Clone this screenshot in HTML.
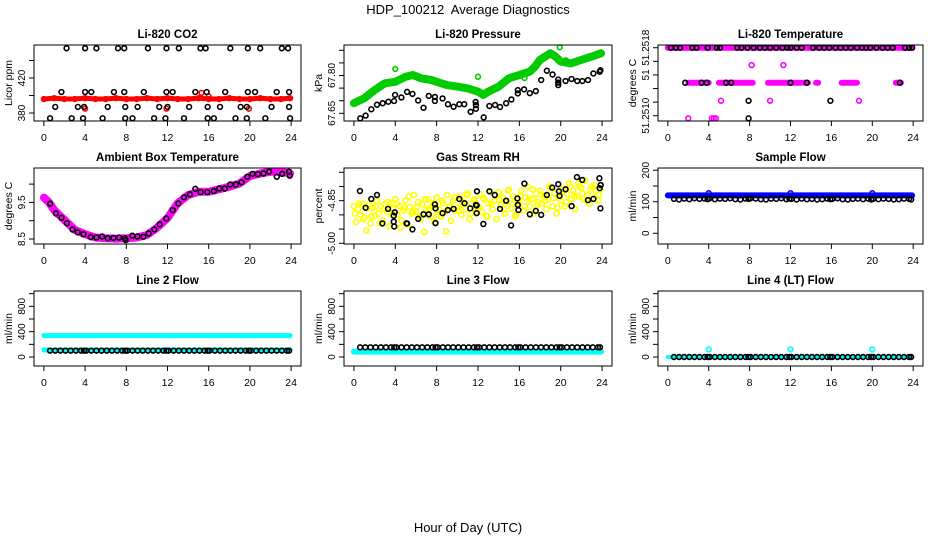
<!DOCTYPE html>
<html><head><meta charset="utf-8"><style>
html,body{margin:0;padding:0;background:#fff;}
svg{display:block;font-family:"Liberation Sans",sans-serif;}
</style></head><body>
<svg id="chart" width="936" height="540" viewBox="0 0 936 540" xmlns="http://www.w3.org/2000/svg">
<rect x="0" y="0" width="936" height="540" fill="#fff"/>
<text x="468" y="14" text-anchor="middle" font-size="13">HDP_100212&#160; Average Diagnostics</text>
<text x="468" y="532" text-anchor="middle" font-size="13">Hour of Day (UTC)</text>
</svg>
<script>
// ---------- data ----------
const xTicks = [0,4,8,12,16,20,24];
const co2RedHours = [0,1,2,3,4,5,6,7,8,9,10,11,12,13,14,15,16,17,18,19,20,21,22,23,23.9];
const co2RedVals = [396,397,396,396,397,396,396,397,396,396,397,396,397,396,396,397,396,396,397,396,396,397,396,396,397];
const co2RedOutHours = [4.0,11.9,19.9,15.3,16.0];
const co2RedOutVals = [385,385,385,403,399];
const co2BlackHours = [2.2,4.0,5.1,7.2,7.8,10.1,11.9,13.1,15.2,15.7,18.1,19.8,21.0,23.1,23.7,
 1.7,4.0,4.6,6.8,7.8,9.7,11.9,12.5,14.7,15.8,17.6,19.8,20.5,22.6,23.8,
 1.1,3.3,3.9,6.2,7.9,9.1,11.2,12.0,14.1,15.9,17.1,19.1,19.7,22.1,23.8,
 0.6,2.7,3.8,5.7,7.9,8.6,10.7,11.8,13.6,15.9,16.5,18.6,19.7,21.5,23.9];
const co2BlackVals = [454,454,454,454,454,454,454,454,454,454,454,454,454,454,454,
 404,404,404,404,404,404,404,404,404,404,404,404,404,404,404,
 387,387,387,387,387,387,387,387,387,387,387,387,387,387,387,
 374,374,374,374,374,374,374,374,374,374,374,374,374,374,374];

const presGreenHours = [0,1,2,3,4,5,5.7,6.5,7.5,8,9,10,11,12,12.5,13,14,15,16,17,17.5,18,19,19.5,20,21,22,23,23.9];
const presGreenVals = [67.690,67.710,67.742,67.769,67.775,67.795,67.802,67.789,67.782,67.775,67.762,67.756,67.749,67.736,67.723,67.736,67.756,67.789,67.802,67.815,67.835,67.862,67.888,67.875,67.855,67.848,67.862,67.875,67.888];
const presGreenOutHours = [4.0,12.0,19.9,20.5,16.5];
const presGreenOutVals = [67.826,67.795,67.912,67.86,67.79];
const presBlackHours = [0.61,1.13,1.68,2.23,2.78,3.33,3.88,3.98,4.59,5.14,5.66,6.21,6.73,7.24,7.83,7.83,8.57,9.09,9.64,10.19,10.67,11.29,11.77,11.8,11.8,12.55,13.1,13.65,14.13,14.72,15.23,15.85,15.85,16.46,17.01,17.59,18.11,18.66,19.21,19.76,19.76,19.76,20.47,21.05,21.6,22.09,22.64,23.16,23.77,23.84];
const presBlackVals = [67.630,67.641,67.666,67.684,67.690,67.696,67.699,67.723,67.713,67.735,67.727,67.701,67.672,67.719,67.715,67.699,67.709,67.686,67.676,67.686,67.686,67.656,67.695,67.683,67.668,67.634,67.679,67.683,67.675,67.690,67.705,67.742,67.729,67.745,67.730,67.738,67.782,67.819,67.804,67.784,67.772,67.762,67.778,67.786,67.778,67.778,67.782,67.808,67.815,67.821];

const tempMagRunStart = [0,2.0,5.0,9.8,13.3,14.5,17.0,22.3];
const tempMagRunEnd = [23.9,4.0,8.3,13.0,13.7,14.7,18.5,22.8];
const tempMagRunVal = [51.2518,51.251388,51.251388,51.251388,51.251388,51.251388,51.251388,51.251388];
const tempMagPtHours = [8.2,11.3,5.2,10.0,18.7,2.0,4.3,4.5,4.7];
const tempMagPtVals = [51.251596,51.251596,51.251176,51.251176,51.251176,51.250969,51.250969,51.250969,51.250969];
const tempBlackHours = [0.3,0.8,1.2,2.4,2.8,3.9,4.8,5.1,6.8,7.2,7.8,8.4,9.0,9.5,10.0,10.6,11.2,11.7,12.0,12.6,13.1,14.2,14.8,15.3,15.8,16.4,16.9,17.4,17.9,18.5,19.0,19.4,19.8,20.4,21.0,21.5,22.0,23.2,23.6,23.9,
 1.7,3.3,3.8,5.7,6.2,12.0,13.6,22.7,7.9,15.9,7.9];
const tempBlackVals = [51.2518,51.2518,51.2518,51.2518,51.2518,51.2518,51.2518,51.2518,51.2518,51.2518,51.2518,51.2518,51.2518,51.2518,51.2518,51.2518,51.2518,51.2518,51.2518,51.2518,51.2518,51.2518,51.2518,51.2518,51.2518,51.2518,51.2518,51.2518,51.2518,51.2518,51.2518,51.2518,51.2518,51.2518,51.2518,51.2518,51.2518,51.2518,51.2518,51.2518,
 51.251388,51.251388,51.251388,51.251388,51.251388,51.251388,51.251388,51.251388,51.251176,51.251176,51.250969];

const ambMagHours = [0,0.5,1,2,3,4,5,6,7,8,9,10,11,12,13,14,15,16,17,18,19,20,21,22,23,23.9];
const ambMagVals = [9.63,9.50,9.29,9.02,8.75,8.63,8.54,8.52,8.51,8.52,8.54,8.61,8.81,9.07,9.48,9.70,9.79,9.79,9.86,9.93,10.02,10.22,10.29,10.34,10.34,10.29];
const ambBlackHours = [0.61,1.16,1.71,2.23,2.78,3.29,3.84,4.55,5.10,5.65,6.20,6.75,7.30,7.85,7.95,8.59,9.08,9.66,10.17,10.72,11.24,11.89,12.50,13.05,13.60,14.18,14.70,15.21,15.86,16.51,17.02,17.57,18.09,18.64,19.19,19.74,20.25,20.77,21.32,21.87,22.61,23.13,23.80,23.87];
const ambBlackVals = [9.465,9.20,9.08,8.93,8.76,8.68,8.63,8.55,8.54,8.57,8.52,8.53,8.54,8.52,8.47,8.59,8.57,8.56,8.65,8.76,8.90,9.06,9.29,9.47,9.64,9.72,9.87,9.78,9.78,9.81,9.88,9.88,9.99,9.99,10.05,10.20,10.28,10.27,10.29,10.34,10.20,10.28,10.34,10.23];

const rhYellowHours = [0,0.2,0.4,0.6,0.8,1,1.2,1.4,1.6,1.8,2,2.2,2.4,2.6,2.8,3,3.2,3.4,3.6,3.8,4,4.2,4.4,4.6,4.8,5,5.2,5.4,5.6,5.8,6,6.2,6.4,6.6,6.8,7,7.2,7.4,7.6,7.8,8,8.2,8.4,8.6,8.8,9,9.2,9.4,9.6,9.8,10,10.2,10.4,10.6,10.8,11,11.2,11.4,11.6,11.8,12,12.2,12.4,12.6,12.8,13,13.2,13.4,13.6,13.8,14,14.2,14.4,14.6,14.8,15,15.2,15.4,15.6,15.8,16,16.2,16.4,16.6,16.8,17,17.2,17.4,17.6,17.8,18,18.2,18.4,18.6,18.8,19,19.2,19.4,19.6,19.8,20,20.2,20.4,20.6,20.8,21,21.2,21.4,21.6,21.8,22,22.2,22.4,22.6,22.8,23,23.2,23.4,23.6,23.8];
const rhYellowVals = [-4.870,-4.925,-4.880,-4.900,-4.860,-4.910,-4.955,-4.865,-4.930,-4.875,
 -4.904,-4.850,-4.895,-4.870,-4.920,-4.862,-4.889,-4.940,-4.858,-4.880,
 -4.845,-4.900,-4.868,-4.920,-4.885,-4.850,-4.935,-4.872,-4.895,-4.830,
 -4.890,-4.855,-4.915,-4.862,-4.960,-4.880,-4.845,-4.905,-4.870,-4.925,
 -4.840,-4.880,-4.905,-4.858,-4.890,-4.830,-4.872,-4.920,-4.850,-4.885,
 -4.875,-4.835,-4.900,-4.855,-4.880,-4.825,-4.915,-4.862,-4.845,-4.890,
 -4.870,-4.828,-4.890,-4.845,-4.905,-4.860,-4.820,-4.880,-4.850,-4.915,
 -4.820,-4.865,-4.840,-4.895,-4.855,-4.812,-4.878,-4.835,-4.905,-4.850,
 -4.860,-4.815,-4.885,-4.838,-4.800,-4.870,-4.845,-4.895,-4.825,-4.855,
 -4.815,-4.860,-4.830,-4.880,-4.845,-4.805,-4.870,-4.825,-4.895,-4.840,
 -4.850,-4.810,-4.870,-4.825,-4.790,-4.845,-4.815,-4.880,-4.835,-4.800,
 -4.805,-4.845,-4.780,-4.830,-4.860,-4.800,-4.840,-4.815,-4.850,-4.810];
const rhYellowHours2 = [0.1,0.5,0.9,1.3,1.7,2.1,2.5,2.9,3.3,3.7,4.1,4.5,4.9,5.3,5.7,6.1,6.5,6.9,7.3,7.7,8.1,8.5,8.9,9.3,9.7,10.1,10.5,10.9,11.3,11.7,12.1,12.5,12.9,13.3,13.7,14.1,14.5,14.9,15.3,15.7,16.1,16.5,16.9,17.3,17.7,18.1,18.5,18.9,19.3,19.7,20.1,20.5,20.9,21.3,21.7,22.1,22.5,22.9,23.3,23.7];
const rhYellowVals2 = [-4.895,-4.860,-4.915,-4.878,-4.905,-4.870,-4.930,-4.880,-4.855,-4.900,
 -4.862,-4.945,-4.875,-4.835,-4.890,-4.870,-4.905,-4.845,-4.880,-4.860,
 -4.900,-4.850,-4.958,-4.870,-4.840,-4.885,-4.865,-4.830,-4.895,-4.850,
 -4.875,-4.840,-4.905,-4.860,-4.830,-4.845,-4.880,-4.815,-4.860,-4.900,
 -4.835,-4.870,-4.845,-4.810,-4.865,-4.830,-4.850,-4.800,-4.840,-4.875,
 -4.820,-4.855,-4.800,-4.835,-4.790,-4.825,-4.850,-4.810,-4.795,-4.830];
const rhBlackHours = [0.58,1.13,1.68,2.23,2.75,3.30,3.85,3.95,3.85,3.90,5.08,5.14,5.66,6.21,6.73,7.24,7.83,7.89,7.89,8.57,9.09,9.64,10.19,10.70,11.25,11.80,11.87,11.87,11.90,12.52,13.10,13.62,14.13,14.72,15.20,15.81,15.85,15.91,16.49,17.01,17.59,18.11,18.66,19.18,19.76,19.83,19.89,20.47,21.05,21.57,22.09,22.64,23.16,23.74,23.77,23.84,23.87];
const rhBlackVals = [-4.816,-4.875,-4.844,-4.830,-4.930,-4.879,-4.903,-4.891,-4.924,-4.941,-4.930,-4.930,-4.951,-4.914,-4.898,-4.898,-4.863,-4.877,-4.929,-4.894,-4.883,-4.879,-4.844,-4.859,-4.877,-4.865,-4.867,-4.894,-4.817,-4.932,-4.817,-4.830,-4.879,-4.850,-4.937,-4.842,-4.865,-4.883,-4.790,-4.898,-4.886,-4.900,-4.830,-4.804,-4.792,-4.817,-4.833,-4.810,-4.869,-4.767,-4.777,-4.848,-4.844,-4.771,-4.806,-4.877,-4.795];

const flowBlackHours = [0.6,1.1,1.6,2.1,2.6,3.1,3.6,3.9,4.1,4.6,5.1,5.6,6.1,6.6,7.1,7.6,7.9,8.1,8.6,9.1,9.6,10.1,10.6,11.1,11.6,11.9,12.1,12.6,13.1,13.6,14.1,14.6,15.1,15.6,15.9,16.1,16.6,17.1,17.6,18.1,18.6,19.1,19.6,19.9,20.1,20.6,21.1,21.6,22.1,22.6,23.1,23.6,23.8];
const sampleBlackVals = [109,107,110,108,111,109,110,108,111,108,110,109,111,108,107,110,109,111,110,108,107,110,109,111,108,110,109,107,110,108,109,107,108,110,108,109,111,108,107,109,110,108,110,107,109,108,110,109,107,108,110,109,107];
const sampleBlueRunStart = [0]; const sampleBlueRunEnd = [23.9]; const sampleBlueRunVal = [120];
const sampleBlueOutHours = [4,12,20]; const sampleBlueOutVals = [127,127,127];
const line2CyanRunStart = [0,0]; const line2CyanRunEnd = [23.9,23.9]; const line2CyanRunVal = [337,110];
const line2BlackVal = 100;
const line3CyanRunStart = [0]; const line3CyanRunEnd = [23.9]; const line3CyanRunVal = [84];
const line3BlackVal = 153;
const line4CyanRunStart = [0]; const line4CyanRunEnd = [23.9]; const line4CyanRunVal = [0];
const line4CyanOutHours = [4,12,20]; const line4CyanOutVals = [120,120,120];
const line4BlackVal = 0;

// ---------- drawing ----------
const NS = "http://www.w3.org/2000/svg";
const svg = document.getElementById("chart");
function mk(tag, attrs, parent){
  const e = document.createElementNS(NS, tag);
  for (const k in attrs) e.setAttribute(k, attrs[k]);
  (parent||svg).appendChild(e);
  return e;
}
function panel(o){
  const g = mk("g", {});
  
  
  const sx = h => o.x0 + (h + 0.96) / 25.92 * (o.x1 - o.x0);
  const sy = v => o.y1 - (v - o.yMin) / (o.yMax - o.yMin) * (o.y1 - o.y0);
  const t = mk("text", {x:(o.x0+o.x1)/2, y:o.y0-7, "text-anchor":"middle", "font-size":"11.5", "font-weight":"bold"}, g);
  t.textContent = o.title;
  
  
  const ax = mk("g", {stroke:"#000","stroke-width":"1"}, g);
  
  
  mk("line", {x1:sx(0), x2:sx(24), y1:o.y1, y2:o.y1}, ax);
  xTicks.forEach(h => {
    mk("line", {x1:sx(h), x2:sx(h), y1:o.y1, y2:o.y1+5}, ax);
    const l = mk("text", {x:sx(h), y:o.y1+20, "text-anchor":"middle", "font-size":"10.5", stroke:"none"}, ax);
    l.textContent = String(h);
    
    
  });
  const ay = mk("g", {stroke:"#000","stroke-width":"1"}, g);
  
  
  mk("line", {x1:o.x0, x2:o.x0, y1:sy(o.yTicks[0]), y2:sy(o.yTicks[o.yTicks.length-1])}, ay);
  o.yTicks.forEach((v,i) => {
    mk("line", {x1:o.x0-5, x2:o.x0, y1:sy(v), y2:sy(v)}, ay);
    if (o.yLabels[i]) {
      const tx = o.x0-9, ty = sy(v);
      const l = mk("text", {x:tx, y:ty, "text-anchor":"middle", "font-size":"10", stroke:"none", transform:`rotate(-90 ${tx} ${ty})`}, ay);
      l.textContent = o.yLabels[i];
      
      
    }
  });
  const yt = mk("text", {x:o.x0-22, y:(o.y0+o.y1)/2, "text-anchor":"middle", "font-size":"10.5", transform:`rotate(-90 ${o.x0-22} ${(o.y0+o.y1)/2})`}, g);
  yt.textContent = o.ylab;
  
  
  const plot = mk("g", {}, g);
  
  
  const box = mk("rect", {x:o.x0, y:o.y0, width:o.x1-o.x0, height:o.y1-o.y0, fill:"none", stroke:"#000", "stroke-width":"1"}, g);
  
  
  return {sx, sy, plot};
}
function points(p, hours, vals, color, name, r){
  const g = mk("g", {fill:"none", stroke:color, "stroke-width":"1.6"}, p.plot);
  
  
  hours.forEach((h,i) => {
    const v = Array.isArray(vals) ? vals[i] : vals;
    const c = mk("circle", {cx:p.sx(h), cy:p.sy(v), r:r||2.4}, g);
    
    
  });
}
function band(p, hours, vals, color, width, name){
  const d = hours.map((h,i) => `${p.sx(h).toFixed(1)},${p.sy(vals[i]).toFixed(1)}`).join(" ");
  const pl = mk("polyline", {points:d, fill:"none", stroke:color, "stroke-width":width, "stroke-linejoin":"round", "stroke-linecap":"round"}, p.plot);
  
  
}
function runs(p, starts, ends, levels, color, width, name){
  starts.forEach((s,i) => {
    const l = mk("line", {x1:p.sx(s), x2:p.sx(ends[i]), y1:p.sy(levels[i]), y2:p.sy(levels[i]), stroke:color, "stroke-width":width, "stroke-linecap":"round"}, p.plot);
    
    
  });
}
const C1=[34,301], C2=[344,612], C3=[658,923];
const R1=[45,121], R2=[168,244], R3=[291,366];
const flowTicks=[0,200,400,600,800,1000], flowLabels=["0","","400","","800",""];

let p = panel({name:"panel-co2", title:"Li-820 CO2", ylab:"Licor ppm", x0:C1[0], x1:C1[1], y0:R1[0], y1:R1[1], yMin:370.9, yMax:457.7, yTicks:[380,400,420,440], yLabels:["380","","420",""]});
band(p, co2RedHours, co2RedVals, "#ff0000", 5, "co2-red-band");
points(p, co2RedHours, co2RedVals, "#ff0000", "co2-red");
points(p, co2RedOutHours, co2RedOutVals, "#ff0000", "co2-red-outlier");
points(p, co2BlackHours, co2BlackVals, "#000", "co2-black");

p = panel({name:"panel-pressure", title:"Li-820 Pressure", ylab:"kPa", x0:C2[0], x1:C2[1], y0:R1[0], y1:R1[1], yMin:67.6195, yMax:67.921, yTicks:[67.65,67.70,67.75,67.80,67.85,67.90], yLabels:["67.65","","","67.80","",""]});
band(p, presGreenHours, presGreenVals, "#00cc00", 8, "pressure-green-band");
points(p, presGreenHours, presGreenVals, "#00cc00", "pressure-green");
points(p, presGreenOutHours, presGreenOutVals, "#00cc00", "pressure-green-outlier");
points(p, presBlackHours, presBlackVals, "#000", "pressure-black");

p = panel({name:"panel-temperature", title:"Li-820 Temperature", ylab:"degrees C", x0:C3[0], x1:C3[1], y0:R1[0], y1:R1[1], yMin:51.250938, yMax:51.251832, yTicks:[51.2510,51.25116,51.25132,51.25148,51.25164,51.2518], yLabels:["51.2510","","","51","","51.2518"]});
runs(p, tempMagRunStart, tempMagRunEnd, tempMagRunVal, "#ff00ff", 6, "temperature-magenta-run");
points(p, tempMagPtHours, tempMagPtVals, "#ff00ff", "temperature-magenta");
points(p, tempBlackHours, tempBlackVals, "#000", "temperature-black");

p = panel({name:"panel-ambient-box", title:"Ambient Box Temperature", ylab:"degrees C", x0:C1[0], x1:C1[1], y0:R2[0], y1:R2[1], yMin:8.363, yMax:10.44, yTicks:[8.5,9,9.5,10], yLabels:["8.5","","9.5",""]});
band(p, ambMagHours, ambMagVals, "#ff00ff", 8, "ambient-magenta-band");
points(p, ambBlackHours, ambBlackVals, "#000", "ambient-black");

p = panel({name:"panel-gas-rh", title:"Gas Stream RH", ylab:"percent", x0:C2[0], x1:C2[1], y0:R2[0], y1:R2[1], yMin:-5.0025, yMax:-4.735, yTicks:[-5.00,-4.95,-4.90,-4.85,-4.80,-4.75], yLabels:["-5.00","","","-4.85","",""]});
points(p, rhYellowHours, rhYellowVals, "#ffff00", "rh-yellow", 2.6);
points(p, rhYellowHours2, rhYellowVals2, "#ffff00", "rh-yellow-b", 2.6);
points(p, rhBlackHours, rhBlackVals, "#000", "rh-black");

p = panel({name:"panel-sample-flow", title:"Sample Flow", ylab:"ml/min", x0:C3[0], x1:C3[1], y0:R2[0], y1:R2[1], yMin:-34, yMax:207, yTicks:[0,50,100,150,200], yLabels:["0","","100","","200"]});
runs(p, sampleBlueRunStart, sampleBlueRunEnd, sampleBlueRunVal, "#0000ff", 6, "sample-blue-run");
points(p, sampleBlueOutHours, sampleBlueOutVals, "#0000ff", "sample-blue-outlier");
points(p, flowBlackHours, sampleBlackVals, "#000", "sample-black");

p = panel({name:"panel-line2-flow", title:"Line 2 Flow", ylab:"ml/min", x0:C1[0], x1:C1[1], y0:R3[0], y1:R3[1], yMin:-142, yMax:1042, yTicks:flowTicks, yLabels:flowLabels});
runs(p, line2CyanRunStart, line2CyanRunEnd, line2CyanRunVal, "#00ffff", 5, "line2-cyan-run");
points(p, flowBlackHours, line2BlackVal, "#000", "line2-black");

p = panel({name:"panel-line3-flow", title:"Line 3 Flow", ylab:"ml/min", x0:C2[0], x1:C2[1], y0:R3[0], y1:R3[1], yMin:-142, yMax:1042, yTicks:flowTicks, yLabels:flowLabels});
runs(p, line3CyanRunStart, line3CyanRunEnd, line3CyanRunVal, "#00ffff", 6, "line3-cyan-run");
points(p, flowBlackHours, line3BlackVal, "#000", "line3-black");

p = panel({name:"panel-line4-flow", title:"Line 4 (LT) Flow", ylab:"ml/min", x0:C3[0], x1:C3[1], y0:R3[0], y1:R3[1], yMin:-142, yMax:1042, yTicks:flowTicks, yLabels:flowLabels});
runs(p, line4CyanRunStart, line4CyanRunEnd, line4CyanRunVal, "#00ffff", 4, "line4-cyan-run");
points(p, line4CyanOutHours, line4CyanOutVals, "#00ffff", "line4-cyan-outlier");
points(p, flowBlackHours, line4BlackVal, "#000", "line4-black");
</script>
</body></html>
